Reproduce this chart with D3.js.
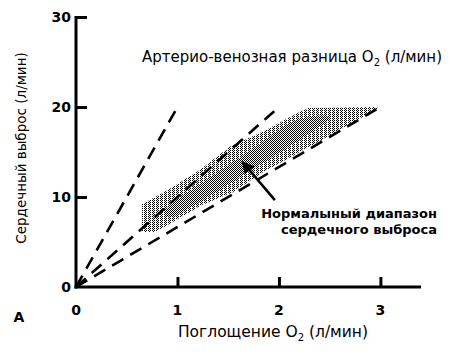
<!DOCTYPE html>
<html>
<head>
<meta charset="utf-8">
<script src="https://cdn.jsdelivr.net/npm/d3@7"></script>
<style>
  body { margin: 0; background: #fff; }
  text { font-family: "DejaVu Sans", "Liberation Sans", Arial, sans-serif; fill: #000; }
</style>
</head>
<body>
<div id="chart"></div>
<script>
const xTicks = [0, 1, 2, 3]
const yTicks = [0, 10, 20, 30]
// end points of the A-V O2 difference lines, all start at the origin
const avLines = [[1, 20], [2, 20], [3, 20]]
// shaded band: normal cardiac output range
const bandTop = [[0.65, 9.2], [0.91, 10.8], [1.22, 13.0], [1.52, 15.6], [1.85, 17.3], [2.18, 19.3], [2.29, 19.9], [2.97, 20.0]]
const bandBottom = [[2.97, 19.8], [2.51, 16.9], [1.85, 12.8], [1.54, 10.5], [1.24, 9.1], [0.95, 7.2], [0.78, 6.1], [0.65, 6.1]]
const bandCore = [[0.9, 8.8], [1.3, 12.0], [1.7, 15.0], [2.15, 18.4], [2.5, 18.8], [2.1, 15.6], [1.7, 12.8], [1.3, 10.0], [0.95, 7.8]]
const arrowFrom = [1.96, 9.65]
const arrowTo = [1.64, 13.9]

const width = 455
const height = 354
const svg = d3.select('#chart').append('svg')
  .attr('width', width)
  .attr('height', height)

const x = d3.scaleLinear().domain([0, 3.4]).range([76, 421])
const y = d3.scaleLinear().domain([0, 30]).range([287, 17])

const defs = svg.append('defs')
const p1 = defs.append('pattern').attr('id', 'dots')
  .attr('patternUnits', 'userSpaceOnUse').attr('width', 4).attr('height', 2)
;[[0, 0], [2, 0], [1, 1]].forEach(d => {
  p1.append('rect').attr('x', d[0]).attr('y', d[1]).attr('width', 1).attr('height', 1).attr('fill', '#000')
})
const p2 = defs.append('pattern').attr('id', 'dots2')
  .attr('patternUnits', 'userSpaceOnUse').attr('width', 4).attr('height', 2)
p2.append('rect').attr('x', 3).attr('y', 1).attr('width', 1).attr('height', 1).attr('fill', '#000')

const line = d3.line().x(d => x(d[0])).y(d => y(d[1]))

svg.append('path')
  .datum(bandTop.concat(bandBottom))
  .attr('d', d => line(d) + 'Z')
  .attr('fill', 'url(#dots)')
svg.append('path')
  .datum(bandCore)
  .attr('d', d => d3.line().x(p => x(p[0])).y(p => y(p[1])).curve(d3.curveCardinalClosed)(d))
  .attr('fill', 'url(#dots2)')

// dashed lines
svg.append('g').selectAll('line')
  .data(avLines)
  .enter()
  .append('line')
  .attr('x1', x(0)).attr('y1', y(0))
  .attr('x2', d => x(d[0])).attr('y2', d => y(d[1]))
  .style('stroke', '#000')
  .style('stroke-width', 2.6)
  .style('stroke-dasharray', '13,8')

// axes
const xAxis = svg.append('g')
  .attr('transform', `translate(0,${y(0)})`)
  .call(d3.axisTop(x).tickValues(xTicks.slice(1)).tickSize(10).tickFormat(''))
xAxis.select('.domain').remove()
xAxis.selectAll('line').style('stroke-width', 3)

const yAxis = svg.append('g')
  .attr('transform', `translate(${x(0)},0)`)
  .call(d3.axisRight(y).tickValues(yTicks.slice(1)).tickSize(11).tickFormat(''))
yAxis.select('.domain').remove()
yAxis.selectAll('line').style('stroke-width', 3)

svg.append('line')
  .attr('x1', x(0) - 1.5).attr('x2', x(3.4))
  .attr('y1', y(0)).attr('y2', y(0))
  .style('stroke', '#000').style('stroke-width', 3)
svg.append('line')
  .attr('x1', x(0)).attr('x2', x(0))
  .attr('y1', y(0) + 1.5).attr('y2', y(30) - 1)
  .style('stroke', '#000').style('stroke-width', 3)

// tick labels
svg.append('g').selectAll('text')
  .data(yTicks)
  .enter()
  .append('text')
  .attr('x', 71)
  .attr('y', d => y(d) + 5)
  .attr('text-anchor', 'end')
  .style('font-size', '14px')
  .style('font-weight', 'bold')
  .text(d => d)
svg.append('g').selectAll('text')
  .data(xTicks)
  .enter()
  .append('text')
  .attr('x', d => x(d))
  .attr('y', 315)
  .attr('text-anchor', 'middle')
  .style('font-size', '14px')
  .style('font-weight', 'bold')
  .text(d => d)

svg.append('text')
  .attr('x', 19).attr('y', 322)
  .attr('text-anchor', 'middle')
  .style('font-size', '14px')
  .style('font-weight', 'bold')
  .text('A')

// axis titles
const xt = svg.append('text')
  .attr('x', 273).attr('y', 337)
  .attr('text-anchor', 'middle')
  .style('font-size', '15.5px')
xt.append('tspan').text('Поглощение O')
xt.append('tspan').attr('dy', 4).style('font-size', '10px').text('2')
xt.append('tspan').attr('dy', -4).text(' (л/мин)')

svg.append('text')
  .attr('transform', 'translate(26,148) rotate(-90)')
  .attr('text-anchor', 'middle')
  .style('font-size', '13.5px')
  .text('Сердечный выброс (л/мин)')

const tt = svg.append('text')
  .attr('x', 292).attr('y', 62)
  .attr('text-anchor', 'middle')
  .style('font-size', '15px')
tt.append('tspan').text('Артерио-венозная разница O')
tt.append('tspan').attr('dy', 4).style('font-size', '10px').text('2')
tt.append('tspan').attr('dy', -4).text(' (л/мин)')

// annotation with arrow
defs.append('marker').attr('id', 'head')
  .attr('viewBox', '0 0 10 10').attr('refX', 9).attr('refY', 5)
  .attr('markerWidth', 5).attr('markerHeight', 5).attr('orient', 'auto')
  .append('path').attr('d', 'M0,0L10,5L0,10Z').attr('fill', '#000')
svg.append('line')
  .attr('x1', x(arrowFrom[0])).attr('y1', y(arrowFrom[1]))
  .attr('x2', x(arrowTo[0])).attr('y2', y(arrowTo[1]))
  .style('stroke', '#000').style('stroke-width', 2.5)
  .attr('marker-end', 'url(#head)')

svg.append('text')
  .attr('x', 437).attr('y', 218)
  .attr('text-anchor', 'end')
  .style('font-size', '13px')
  .style('font-weight', 'bold')
  .text('Нормалыный диапазон')
svg.append('text')
  .attr('x', 437).attr('y', 234)
  .attr('text-anchor', 'end')
  .style('font-size', '13px')
  .style('font-weight', 'bold')
  .text('сердечного выброса')
</script>
</body>
</html>
